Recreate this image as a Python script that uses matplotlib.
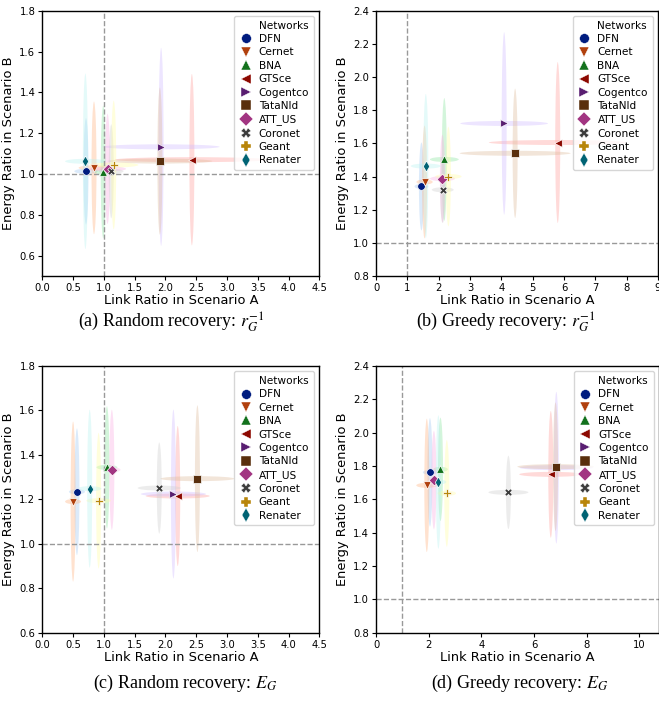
import matplotlib
matplotlib.use("Agg")
import matplotlib.pyplot as plt
from matplotlib.patches import Ellipse
from matplotlib.lines import Line2D

networks = ["DFN", "Cernet", "BNA", "GTSce", "Cogentco", "TataNld", "ATT_US", "Coronet", "Geant", "Renater"]
markers = ["o", "v", "^", "<", ">", "s", "D", "X", "P", "d"]
dark = ["#001c7f", "#b1400d", "#12711c", "#8c0800", "#591e71", "#592f0d", "#a23582", "#3c3c3c", "#b8850a", "#006374"]
pastel = ["#a1c9f4", "#ffb482", "#8de5a1", "#ff9f9b", "#d0bbff", "#debb9b", "#fab0e4", "#cfcfcf", "#fffea3", "#b9f2f0"]

# (a) Random recovery, r_G^-1
a_x = [0.71, 0.84, 0.99, 2.43, 1.93, 1.91, 1.06, 1.12, 1.16, 0.70]
a_y = [1.013, 1.03, 1.01, 1.07, 1.133, 1.063, 1.025, 1.013, 1.044, 1.062]
a_sx = [0.19, 0.25, 0.15, 1.25, 0.95, 0.85, 0.30, 0.20, 0.40, 0.33]
a_sy = [0.26, 0.325, 0.325, 0.42, 0.485, 0.36, 0.27, 0.23, 0.315, 0.43]

# (b) Greedy recovery, r_G^-1
b_x = [1.45, 1.55, 2.18, 5.80, 4.09, 4.44, 2.12, 2.13, 2.31, 1.59]
b_y = [1.34, 1.367, 1.503, 1.605, 1.72, 1.54, 1.387, 1.32, 1.40, 1.463]
b_sx = [0.22, 0.26, 0.46, 2.2, 1.4, 1.77, 0.40, 0.35, 0.42, 0.48]
b_sy = [0.265, 0.34, 0.37, 0.485, 0.55, 0.39, 0.265, 0.20, 0.30, 0.435]

# (c) Random recovery, E_G
c_x = [0.563, 0.50, 1.05, 2.20, 2.13, 2.52, 1.13, 1.90, 0.915, 0.77]
c_y = [1.234, 1.19, 1.344, 1.215, 1.224, 1.293, 1.333, 1.251, 1.194, 1.248]
c_sx = [0.13, 0.13, 0.17, 0.52, 0.53, 0.60, 0.14, 0.35, 0.20, 0.19]
c_sy = [0.285, 0.36, 0.275, 0.315, 0.38, 0.33, 0.27, 0.205, 0.305, 0.355]

# (d) Greedy recovery, E_G
d_x = [2.05, 1.93, 2.45, 6.64, 6.85, 6.82, 2.20, 5.03, 2.69, 2.37]
d_y = [1.762, 1.684, 1.78, 1.75, 1.79, 1.796, 1.716, 1.642, 1.636, 1.704]
d_sx = [0.27, 0.40, 0.28, 1.2, 1.4, 1.45, 0.20, 0.76, 0.35, 0.30]
d_sy = [0.325, 0.40, 0.31, 0.38, 0.455, 0.385, 0.295, 0.22, 0.32, 0.40]

W, H = 659, 705
fig = plt.figure(figsize=(W / 100, H / 100), dpi=100)
plt.rcParams['mathtext.fontset'] = 'stix'


def make_axes(left, right, top, bottom):
    return fig.add_axes([left / W, 1 - bottom / H, (right - left) / W, (bottom - top) / H])


def draw_panel(ax, xs, ys, sxs, sys, xlim, ylim, xticks, yticks, xfmt):
    ax.set_xlim(*xlim)
    ax.set_ylim(*ylim)
    bbox = ax.get_position()
    wpx = bbox.width * W
    hpx = bbox.height * H
    # ellipse thickness ~5 px in data units
    th_x = 5 * (xlim[1] - xlim[0]) / wpx
    th_y = 5 * (ylim[1] - ylim[0]) / hpx

    for i in range(len(networks)):
        ax.add_patch(Ellipse((xs[i], ys[i]), 2 * sxs[i], th_y, color=pastel[i], alpha=0.38, lw=0, zorder=1))
        ax.add_patch(Ellipse((xs[i], ys[i]), th_x, 2 * sys[i], color=pastel[i], alpha=0.38, lw=0, zorder=1))

    ax.axvline(1.0, color="0.6", ls="--", lw=1, zorder=2)
    ax.axhline(1.0, color="0.6", ls="--", lw=1, zorder=2)

    for i in range(len(networks)):
        ax.scatter(xs[i], ys[i], marker=markers[i], color=dark[i], s=30,
                   edgecolors="white", linewidths=0.5, zorder=3)

    ax.set_xticks(xticks)
    ax.set_yticks(yticks)
    ax.set_xticklabels([xfmt.format(t) for t in xticks])
    ax.set_yticklabels(["{:.1f}".format(t) for t in yticks])
    ax.tick_params(labelsize=7.2, length=3, width=0.8, pad=2)
    for s in ax.spines.values():
        s.set_linewidth(1.0)
    ax.set_xlabel("Link Ratio in Scenario A", fontsize=9.4, labelpad=1)
    ax.set_ylabel("Energy Ratio in Scenario B", fontsize=9.4, labelpad=3)

    # legend title drawn as an empty entry, seaborn style
    handles = [Line2D([], [], linestyle="none", marker="")]
    labels = ["Networks"]
    for i in range(len(networks)):
        handles.append(Line2D([], [], linestyle="none", marker=markers[i], color=dark[i],
                              markeredgecolor="white", markeredgewidth=0.3, markersize=7))
        labels.append(networks[i])
    ax.legend(handles, labels, loc="upper right", fontsize=7.6, labelspacing=0.32,
              handlelength=1.3, handletextpad=0.6, borderpad=0.45, borderaxespad=0.5,
              edgecolor="0.8", fancybox=True)


ax_a = make_axes(42.3, 319.3, 10.7, 276)
draw_panel(ax_a, a_x, a_y, a_sx, a_sy, (0, 4.5), (0.5, 1.8),
           [0, 0.5, 1, 1.5, 2, 2.5, 3, 3.5, 4, 4.5], [0.6, 0.8, 1.0, 1.2, 1.4, 1.6, 1.8], "{:.1f}")

ax_b = make_axes(376, 658, 10.7, 276)
draw_panel(ax_b, b_x, b_y, b_sx, b_sy, (0, 9), (0.8, 2.4),
           list(range(10)), [0.8, 1.0, 1.2, 1.4, 1.6, 1.8, 2.0, 2.2, 2.4], "{:d}")

ax_c = make_axes(42.3, 319.3, 366, 632.7)
draw_panel(ax_c, c_x, c_y, c_sx, c_sy, (0, 4.5), (0.6, 1.8),
           [0, 0.5, 1, 1.5, 2, 2.5, 3, 3.5, 4, 4.5], [0.6, 0.8, 1.0, 1.2, 1.4, 1.6, 1.8], "{:.1f}")

ax_d = make_axes(376, 659, 366, 632.7)
draw_panel(ax_d, d_x, d_y, d_sx, d_sy, (0, 10.75), (0.8, 2.4),
           [0, 2, 4, 6, 8, 10], [0.8, 1.0, 1.2, 1.4, 1.6, 1.8, 2.0, 2.2, 2.4], "{:d}")

cap_font = dict(fontsize=13, family="Liberation Serif", ha="center", va="center")
fig.text(171 / W, 1 - 322 / H, r"(a) Random recovery: $r_G^{-1}$", **cap_font)
fig.text(506 / W, 1 - 322 / H, r"(b) Greedy recovery: $r_G^{-1}$", **cap_font)
fig.text(185 / W, 1 - 683 / H, r"(c) Random recovery: $E_G$", **cap_font)
fig.text(520 / W, 1 - 683 / H, r"(d) Greedy recovery: $E_G$", **cap_font)

plt.savefig("out.png", dpi=100)
plt.close()
